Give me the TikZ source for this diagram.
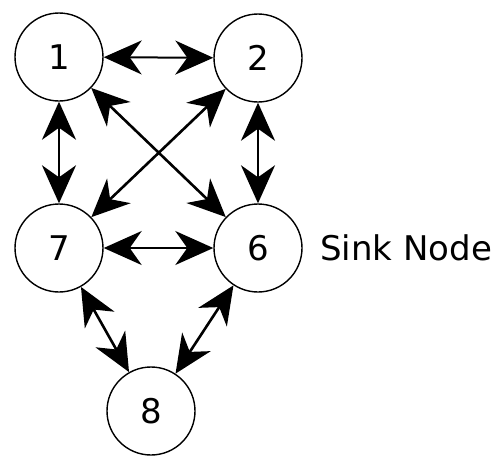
\documentclass[tikz,border=0pt]{standalone}
\usepackage{fontspec}
\setmainfont{DejaVu Sans}
\usepackage{tikz}
\usetikzlibrary{arrows.meta}

\begin{document}
\begin{tikzpicture}[line cap=round,line join=round,x=1pt,y=-1pt,
  >={Stealth[length=38pt,width=34pt,inset=12pt]},
  vertex/.style={circle,draw,line width=1.4pt,minimum size=88pt,inner sep=0pt,
    font=\fontsize{34}{40}\selectfont},
  link/.style={<->,line width=2.6pt},
  hlink/.style={<->,line width=2pt}]
\useasboundingbox (0,0) rectangle (496,456);
\node[vertex] (n1) at (59,57) {1};
\node[vertex] (n2) at (258,58) {2};
\node[vertex] (n7) at (59,248) {7};
\node[vertex] (n6) at (258,248) {6};
\node[vertex] (n8) at (151,411) {8};
\node[right,xshift=14pt,font=\fontsize{34}{40}\selectfont] (sink) at (n6.east) {Sink Node};
% edges
\draw[hlink] (n1) -- (n2);
\draw[hlink] (n7) -- (n6);
\draw[link] (n1) -- (n7);
\draw[link] (n2) -- (n6);
\draw[link] (n1) -- (n6);
\draw[link] (n2) -- (n7);
\draw[link] (n7) -- (n8);
\draw[link] (n6) -- (n8);
\end{tikzpicture}
\end{document}
